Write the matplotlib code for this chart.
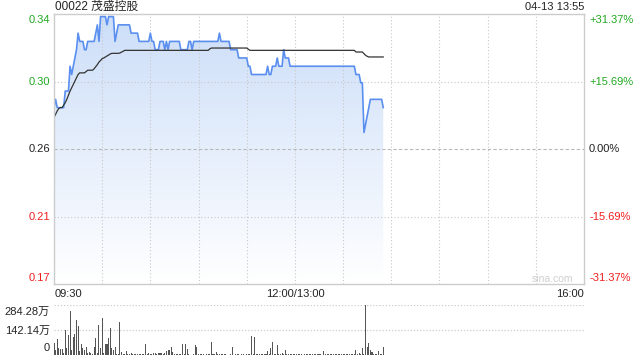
import matplotlib
matplotlib.use("Agg")
import matplotlib.pyplot as plt
import numpy as np
from matplotlib.patches import Polygon

plt.rcParams['font.family'] = ['Liberation Sans', 'Noto Sans CJK SC', 'DejaVu Sans']

# ---------------- data ----------------
title = "00022 茂盛控股"
stamp = "04-13 13:55"
prev_close = 0.26
pct_range = 0.3137

# minute prices as (price, number of minutes) runs, from 09:30
price_runs = [
    (0.285, 1), (0.290, 1), (0.285, 5), (0.295, 3), (0.310, 1), (0.305, 1),
    (0.310, 1), (0.315, 1), (0.320, 1), (0.330, 1), (0.325, 3), (0.320, 2),
    (0.325, 5), (0.330, 1), (0.335, 1), (0.325, 1), (0.340, 4), (0.335, 1),
    (0.340, 4), (0.325, 1), (0.330, 1), (0.335, 8), (0.330, 5), (0.325, 7),
    (0.330, 1), (0.325, 2), (0.320, 3), (0.325, 3), (0.320, 1), (0.325, 1),
    (0.320, 1), (0.325, 7), (0.320, 5), (0.325, 2), (0.320, 1), (0.325, 16),
    (0.330, 1), (0.325, 6), (0.320, 5), (0.315, 6), (0.310, 2), (0.305, 10),
    (0.310, 1), (0.305, 2), (0.310, 3), (0.315, 1), (0.310, 2), (0.310, 1),
    (0.320, 1), (0.315, 3), (0.310, 41), (0.305, 3), (0.300, 2), (0.270, 1),
    (0.275, 1), (0.280, 1), (0.285, 1), (0.290, 8), (0.285, 1),
]

avg_runs = [
    (0.279, 1), (0.281, 1), (0.283, 1), (0.2845, 1), (0.285, 2), (0.2865, 1),
    (0.288, 1), (0.290, 1), (0.2925, 1), (0.295, 1), (0.297, 1), (0.299, 1),
    (0.301, 1), (0.303, 1), (0.305, 1), (0.306, 4), (0.3068, 1), (0.3076, 4),
    (0.3085, 1), (0.3097, 1), (0.311, 1), (0.3125, 1), (0.3135, 1),
    (0.3146, 1), (0.315, 1), (0.3156, 1), (0.3162, 1), (0.3168, 1),
    (0.3174, 1), (0.3178, 5), (0.318, 1), (0.3185, 1), (0.319, 1),
    (0.3196, 53), (0.3205, 1), (0.321, 23), (0.3203, 1), (0.3196, 66),
    (0.3186, 5), (0.3176, 1), (0.3166, 1), (0.316, 1), (0.3156, 10),
]

# volume per minute, in 万
volume = [
    70, 30, 89, 38, 34, 34, 10, 141, 40, 113,
    249, 30, 104, 117, 198, 164, 20, 60, 38, 28,
    47, 10, 19, 9, 5, 47, 98, 9, 169, 40,
    211, 10, 60, 60, 94, 154, 41, 28, 47, 5,
    4, 188, 19, 5, 4, 23, 3, 4, 9, 3,
    3, 3, 4, 6, 3, 6, 3, 60, 6, 9,
    3, 5, 9, 14, 3, 11, 13, 9, 8, 11,
    23, 28, 28, 47, 19, 4, 3, 4, 4, 3,
    60, 4, 60, 32, 4, 2, 2, 3, 56, 45,
    3, 3, 3, 3, 2, 3, 3, 3, 72, 4,
    4, 19, 3, 6, 6, 8, 4, 4, 2, 2,
    3, 45, 2, 3, 3, 3, 2, 3, 3, 2,
    3, 3, 3, 105, 3, 100, 5, 3, 3, 3,
    3, 3, 3, 23, 6, 38, 72, 5, 8, 56,
    3, 8, 12, 8, 28, 3, 3, 3, 3, 3,
    3, 3, 3, 3, 3, 2, 3, 5, 3, 3,
    3, 3, 3, 3, 3, 3, 3, 2, 23, 3,
    3, 3, 3, 3, 3, 3, 3, 3, 3, 3,
    3, 3, 3, 3, 3, 3, 3, 3, 26, 8,
    10, 4, 41, 5, 284, 47, 66, 28, 19, 8,
    3, 4, 23, 8, 3, 47,
]

total_minutes = 330
time_labels = ["09:30", "12:00/13:00", "16:00"]
price_labels = ["0.34", "0.30", "0.26", "0.21", "0.17"]
pct_labels = ["+31.37%", "+15.69%", "0.00%", "-15.69%", "-31.37%"]
vol_max = 284.28
vol_labels = ["284.28万", "142.14万", "0"]

# ---------------- build ----------------
prices = np.concatenate([[p] * n for p, n in price_runs])
avgs = np.concatenate([[p] * n for p, n in avg_runs])
t_p = np.arange(len(prices))
t_a = np.arange(len(avgs))
t_v = np.arange(len(volume))

ymax = prev_close * (1 + pct_range)
ymin = prev_close * (1 - pct_range)
levels = np.linspace(ymax, ymin, 5)

W, H = 640, 360
fig = plt.figure(figsize=(6.4, 3.6), dpi=100)
L, R = 54, 584
T, B = 14, 284
ax = fig.add_axes([L / W, (H - B) / H, (R - L) / W, (B - T) / H])
ax.set_xlim(0, total_minutes)
ax.set_ylim(ymin, ymax)

for s in ax.spines.values():
    s.set_color('#cccccc')
    s.set_linewidth(1)
    s.set_zorder(6)
ax.set_xticks([])
ax.set_yticks([])

# grid (drawn over the fill)
for k in range(1, 11):
    ax.axvline(k * 30, color='#c8c8c8', lw=0.8, ls=(0, (1, 2)), zorder=3)
for i, lv in enumerate(levels[1:-1]):
    if i == 1:
        ax.axhline(lv, color='#b8b8b8', lw=0.8, ls=(0, (3, 2)), zorder=3)
    else:
        ax.axhline(lv, color='#c8c8c8', lw=0.8, ls=(0, (1, 2)), zorder=3)

# gradient fill under price
verts = [(t_p[0], ymin)] + list(zip(t_p, prices)) + [(t_p[-1], ymin)]
poly = Polygon(verts, closed=True, facecolor='none', edgecolor='none')
ax.add_patch(poly)
grad = np.linspace(0, 1, 256).reshape(-1, 1)
top_c = np.array([0.80, 0.87, 0.975])
bot_c = np.array([1.0, 1.0, 1.0])
img = top_c[None, None, :] * (1 - grad[:, :, None]) + bot_c[None, None, :] * grad[:, :, None]
im = ax.imshow(img, extent=[0, total_minutes, ymin, ymax], aspect='auto',
               origin='upper', zorder=2)
im.set_clip_path(poly)

ax.plot(t_p, prices, color='#5a8ff0', lw=1.2, zorder=4)
ax.plot(t_a, avgs, color='#333333', lw=0.9, zorder=5)

# left / right labels
green, red, black = '#22a822', '#f02020', '#222222'
cols = [green, green, black, red, red]
ypix = [20, 82, 149, 217, 278]
for lab, pl, c, yp in zip(price_labels, pct_labels, cols, ypix):
    fig.text((L - 4) / W, (H - yp) / H, lab, ha='right', va='center',
             color=c, fontsize=8)
    fig.text((R + 5) / W, (H - yp) / H, pl, ha='left', va='center',
             color=c, fontsize=8)

# time labels
fig.text((L + 1) / W, (H - 294) / H, time_labels[0], ha='left', va='center',
         fontsize=8, color='#222222')
fig.text((L + 150 / 330 * (R - L)) / W, (H - 294) / H, time_labels[1],
         ha='center', va='center', fontsize=8, color='#222222')
fig.text(R / W, (H - 294) / H, time_labels[2], ha='right', va='center',
         fontsize=8, color='#222222')

# title & stamp
fig.text((L + 1) / W, (H - 7) / H, title, ha='left', va='center',
         fontsize=8.5, color='#222222')
fig.text(R / W, (H - 7) / H, stamp, ha='right', va='center',
         fontsize=8, color='#222222')

# watermark
fig.text(573 / W, (H - 279) / H, "sina.com", ha='right', va='center',
         fontsize=7.5, color='#cfcfcf')

# volume panel
VT, VB = 304.7, 355
axv = fig.add_axes([L / W, (H - VB) / H, (R - L) / W, (VB - VT) / H])
axv.set_xlim(0, total_minutes)
axv.set_ylim(0, vol_max)
for s in axv.spines.values():
    s.set_visible(False)
axv.set_xticks([])
axv.set_yticks([])
axv.axhline(vol_max, color='#cccccc', lw=0.9, ls=(0, (1, 1.5)))
axv.axhline(vol_max / 2, color='#cccccc', lw=0.9, ls=(0, (1, 1.5)))
axv.bar(t_v, volume, width=0.65, color='#555555', align='center', zorder=3)

vy = [312, 331, 348]
for lab, yp in zip(vol_labels, vy):
    fig.text((L - 4) / W, (H - yp) / H, lab, ha='right', va='center',
             fontsize=8, color='#222222')

fig.savefig("out.png", dpi=100)
